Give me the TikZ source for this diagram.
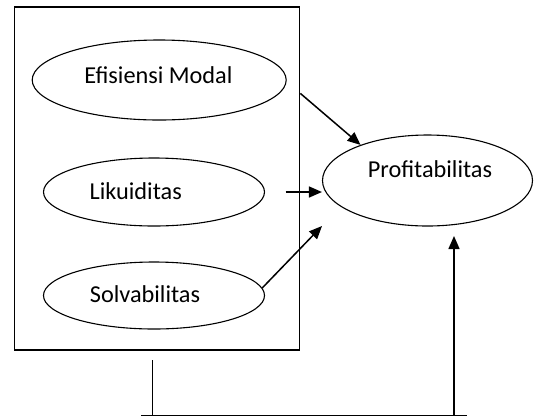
\documentclass[tikz,border=0pt]{standalone}
\usepackage{fontspec}
\setmainfont{Carlito}
\usetikzlibrary{shapes.geometric}
\usetikzlibrary{arrows.meta}

\tikzset{
  var/.style={draw,ellipse,line width=1.1bp,inner sep=0pt},
  lbl/.style={font=\fontsize{24.3bp}{29bp}\selectfont,inner sep=0pt,anchor=base},
  arr/.style={-{Triangle[length=13bp,width=11bp]},line width=1.5bp},
  wire/.style={line width=1.5bp},
}

\begin{document}
\begin{tikzpicture}[x=1bp,y=-1bp]
  \useasboundingbox (0,0) rectangle (534,417);
  \node (box) [draw,line width=1.2bp,minimum width=285.5bp,minimum height=343bp,inner sep=0pt] at (157,178.5) {};
  \node (em) [var,minimum width=254bp,minimum height=80bp] at (159.2,80) {};
  \node (li) [var,minimum width=221bp,minimum height=68bp] at (154,192) {};
  \node (so) [var,minimum width=221bp,minimum height=67bp] at (154,295.5) {};
  \node (pr) [var,minimum width=210bp,minimum height=91bp] at (427.5,180.5) {};

  \node (tem) [lbl] at (158.5,83) {Efisiensi Modal};
  \node (tli) [lbl] at (135.7,199) {Likuiditas};
  \node (tso) [lbl] at (145,302) {Solvabilitas};
  \node (tpr) [lbl] at (430,177) {Profitabilitas};

  \coordinate (sotip) at (322,226);
  \coordinate (stub) at (152.6,360);
  \coordinate (bl) at (141.3,415.5);
  \coordinate (br) at (466.6,415.5);
  \coordinate (up) at (454,415.5);
  \coordinate (uptip) at (454,236);

  \draw[arr] ([yshift=-87bp]box.north east) -- (pr.152);
  \draw[arr] ([xshift=20.5bp]li.east) -- (li.east -| pr.west);
  \draw[arr] (so.4) -- (sotip);

  \draw[wire] (stub) -- (stub |- bl);
  \draw[wire] (bl) -- (br);
  \draw[arr] (up) -- (uptip);
\end{tikzpicture}
\end{document}
